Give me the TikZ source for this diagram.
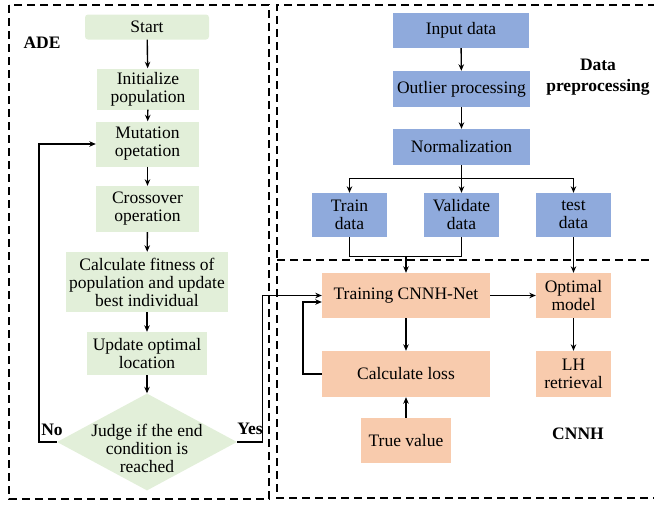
\documentclass[tikz,border=0pt]{standalone}
\usepackage{fontspec}
\setmainfont{Liberation Serif}
\usetikzlibrary{arrows.meta,shapes.geometric}

\definecolor{adegreen}{HTML}{E2EFD9}
\definecolor{datablue}{HTML}{8FAADC}
\definecolor{netorange}{HTML}{F8CBAD}

\begin{document}
\begin{tikzpicture}[x=1pt, y=-1pt,
	every node/.style={inner sep=0pt, align=center, font=\rmfamily\fontsize{17.5}{18}\selectfont},
	adebox/.style={rectangle, fill=adegreen},
	databox/.style={rectangle, fill=datablue},
	netbox/.style={rectangle, fill=netorange},
	title/.style={font=\rmfamily\fontsize{17.5}{21}\selectfont\bfseries},
	arr/.style={draw=black, line width=1.4pt, -{Stealth[length=6.5pt,width=5.5pt]}},
	link/.style={draw=black, line width=1.4pt},
	panel/.style={draw=black, line width=1.5pt, dash pattern=on 8pt off 5pt}]
				\useasboundingbox (0,0) rectangle (654,506);
				
				% dashed panels
				\draw[panel] (9,5) rectangle (269,499);
				\draw[panel] (656,5) -- (277,5) -- (277,498) -- (656,498);
				\draw[panel] (277,260) -- (656,260);
				
				% ADE
				\node[adebox, rounded corners=3pt, minimum width=124, minimum height=25] (start) at (147,27) {Start};
				\node[adebox, minimum width=102, minimum height=41] (init) at (148,89) {Initialize\\population};
				\node[adebox, minimum width=103, minimum height=45] (mutate) at (147.5,144) {Mutation\\opetation};
				\node[adebox, minimum width=103, minimum height=46] (cross) at (147.5,209) {Crossover\\operation};
				\node[adebox, minimum width=162, minimum height=60] (fitness) at (147,282) {Calculate fitness of\\population and update\\best individual};
				\node[adebox, minimum width=120, minimum height=43] (update) at (147,353.5) {Update optimal\\location};
				\node[diamond, fill=adegreen, minimum width=180, minimum height=97] (judge) at (147,442) {};
				\node (judgetext) at (147,448) {Judge if the end\\condition is\\reached};
				
				\node[title] (ade) at (42,43) {ADE};
				\node[title] (no) at (52,430) {No};
				\node[title] (yes) at (250,429) {Yes};
				
				\path[arr] (start) -- (init);
				\path[arr] (init) -- (mutate);
				\path[arr] (mutate) -- (cross);
				\path[arr] (cross) -- (fitness);
				\path[arr] (fitness) -- (update);
				\path[arr] (update) -- (judge);
				\path[arr] (judge.west) -- ++(-18,0) |- (mutate.west);
				
				% data preprocessing
				\node[databox, minimum width=136, minimum height=35] (input) at (461,30.5) {Input data};
				\node[databox, minimum width=137, minimum height=36] (outlier) at (461.5,89) {Outlier processing};
				\node[databox, minimum width=137, minimum height=36] (norm) at (461.5,147) {Normalization};
				\node[databox, minimum width=75, minimum height=44] (traind) at (349.5,215) {Train\\data};
				\node[databox, minimum width=75, minimum height=44] (vald) at (461.5,215) {Validate\\data};
				\node[databox, minimum width=75, minimum height=44] (testd) at (573.5,215) {test\\data};
				
				\node[title] (prep) at (598,77) {Data\\preprocessing};
				
				\path[arr] (input) -- (outlier);
				\path[arr] (outlier) -- (norm);
				\path[arr] (norm.south) -- ++(0,13) -| (traind.north);
				\path[arr] (norm.south) -- (vald.north);
				\path[arr] (norm.south) -- ++(0,13) -| (testd.north);
				\path[link] (traind.south) -- ++(0,19) -| (vald.south);
				
				% CNNH
				\node[netbox, minimum width=168, minimum height=45] (train) at (406,295.5) {Training CNNH-Net};
				\node[netbox, minimum width=75, minimum height=45] (optimal) at (573.5,295.5) {Optimal\\model};
				\node[netbox, minimum width=168, minimum height=46] (loss) at (406,374) {Calculate loss};
				\node[netbox, minimum width=75, minimum height=46] (retrieve) at (573.5,374) {LH\\retrieval};
				\node[netbox, minimum width=90, minimum height=45] (truth) at (406,440.5) {True value};
				\coordinate (join) at (406,256);
				
				\node[title] (cnnh) at (578,434) {CNNH};
				
				\path[arr] (join) -- (train.north);
				\path[arr] (testd) -- (optimal);
				\path[arr] (train) -- (loss);
				\path[arr] (train) -- (optimal);
				\path[arr] (optimal) -- (retrieve);
				\path[arr] (truth) -- (loss);
				\path[arr] (loss.west) -- ++(-19,0) |- ([yshift=-6.5pt]train.west);
				\path[arr] (judge.east) -- ++(25,0) |- (train.west);
				\end{tikzpicture}
\end{document}
